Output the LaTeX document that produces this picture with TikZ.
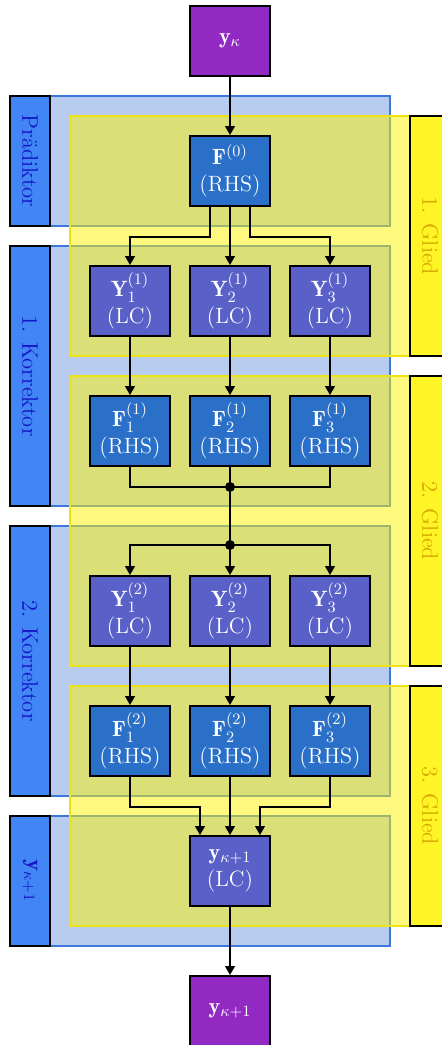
\documentclass[tikz,border=0pt]{standalone}
\usepackage{fontspec}
\usepackage{amsmath}
\usetikzlibrary{arrows.meta, positioning, calc}
\definecolor{c1}{HTML}{000000}
\definecolor{c2}{HTML}{9229C3}
\definecolor{c3}{HTML}{2A70C8}
\definecolor{c4}{HTML}{5960C8}
\definecolor{c5}{HTML}{4285F4}
\definecolor{zoneblue}{HTML}{B8CCF0}
\definecolor{zoneline}{HTML}{3C78DC}
\definecolor{stagecolor}{HTML}{1414C8}
\definecolor{gliedcolor}{HTML}{D4AA00}

\begin{document}
\begin{tikzpicture}[
    every node/.style={font=\fontsize{12.8}{15}\selectfont},
    box/.style={rectangle, draw=c1, line width=1.1pt, minimum width=1.6cm,
                minimum height=1.4cm, text=white, align=center, inner sep=1pt,
                font=\fontsize{12.6}{15.5}\selectfont},
    vec/.style={box, fill=c2},
    rhs/.style={box, fill=c3},
    lc/.style={box, fill=c4},
    arr/.style={-{Triangle[length=5pt, width=5.5pt]}, line width=0.85pt, color=c1},
    wire/.style={line width=0.85pt, color=c1},
    zoneB/.style={fill=zoneblue, draw=zoneline, line width=0.6pt},
    zoneY/.style={fill=yellow, fill opacity=0.5, draw=yellow!92!black, line width=0.8pt},
    stage/.style={rectangle, rotate=-90, draw=c1, fill=c5, line width=0.9pt,
                  minimum height=0.8cm, text=stagecolor, inner sep=0pt},
    glied/.style={rectangle, rotate=-90, draw=c1, fill=yellow!85, line width=0.9pt,
                  minimum height=0.8cm, text=gliedcolor, inner sep=0pt},
]
\useasboundingbox (0,0) rectangle (8.84,20.90);
\clip (0,0) rectangle (8.84,20.90);

% ================================================================ stages
\draw[zoneB] (1.00,18.98) rectangle (7.80,16.38);
\draw[zoneB] (1.00,15.98) rectangle (7.80,10.78);
\draw[zoneB] (1.00,10.38) rectangle (7.80, 4.98);
\draw[zoneB] (1.00, 4.58) rectangle (7.80, 1.98);
\node[stage, minimum width=2.6cm] (pred) at (0.60,17.68) {Prädiktor};
\node[stage, minimum width=5.2cm] (korr1) at (0.60,13.38) {1. Korrektor};
\node[stage, minimum width=5.4cm] (korr2) at (0.60, 7.68) {2. Korrektor};
\node[stage, minimum width=2.6cm] (ynext) at (0.60, 3.28) {$\mathbf{y}_{\kappa+1}$};

% ================================================================ glieder
\draw[zoneY] (1.40,18.58) rectangle (8.20,13.78);
\draw[zoneY] (1.40,13.38) rectangle (8.20, 7.58);
\draw[zoneY] (1.40, 7.18) rectangle (8.20, 2.38);
\node[glied, minimum width=4.8cm] (g1) at (8.60,16.18) {1. Glied};
\node[glied, minimum width=5.8cm] (g2) at (8.60,10.48) {2. Glied};
\node[glied, minimum width=4.8cm] (g3) at (8.60, 4.78) {3. Glied};

% ================================================================ blocks
\node[vec] (yk) at (4.60,20.08) {$\mathbf{y}_{\kappa}$};
\node[rhs] (f0) at (4.60,17.48) {$\mathbf{F}^{(0)}$\\(RHS)};
\foreach \i/\x in {1/2.60, 2/4.60, 3/6.60}{
    \node[lc]  (y1\i) at (\x,14.88) {$\mathbf{Y}_{\i}^{(1)}$\\(LC)};
    \node[rhs] (f1\i) at (\x,12.28) {$\mathbf{F}_{\i}^{(1)}$\\(RHS)};
    \node[lc]  (y2\i) at (\x, 8.68) {$\mathbf{Y}_{\i}^{(2)}$\\(LC)};
    \node[rhs] (f2\i) at (\x, 6.08) {$\mathbf{F}_{\i}^{(2)}$\\(RHS)};
}
\node[lc] (ynew) at (4.60,3.48) {$\mathbf{y}_{\kappa+1}$\\(LC)};
\node[vec] (yout) at (4.60,0.68) {$\mathbf{y}_{\kappa+1}$};

% ================================================================ wires
\draw[arr] (yk) -- (f0);
\draw[arr] ([xshift=-4mm]f0.south) -- ++(0,-0.6) -| (y11.north);
\draw[arr] (f0) -- (y12);
\draw[arr] ([xshift=4mm]f0.south) -- ++(0,-0.6) -| (y13.north);
\foreach \i in {1,2,3}{
    \draw[arr] (y1\i) -- (f1\i);
    \draw[arr] (y2\i) -- (f2\i);
}

\coordinate (j1) at ($(f12.south)+(0,-0.4)$);
\coordinate (j2) at ($(y22.north)+(0,0.6)$);
\draw[wire] (f11.south) |- (j1) -| (f13.south);
\draw[wire] (f12) -- (j1) -- (j2);
\draw[arr] (j2) -| (y21.north);
\draw[arr] (j2) -- (y22);
\draw[arr] (j2) -| (y23.north);
\fill[c1] (j1) circle (0.1);
\fill[c1] (j2) circle (0.1);

\draw[arr] (f21.south) -- ++(0,-0.6) -| ([xshift=-6mm]ynew.north);
\draw[arr] (f22) -- (ynew);
\draw[arr] (f23.south) -- ++(0,-0.6) -| ([xshift=6mm]ynew.north);
\draw[arr] (ynew) -- (yout);

\end{tikzpicture}
\end{document}
